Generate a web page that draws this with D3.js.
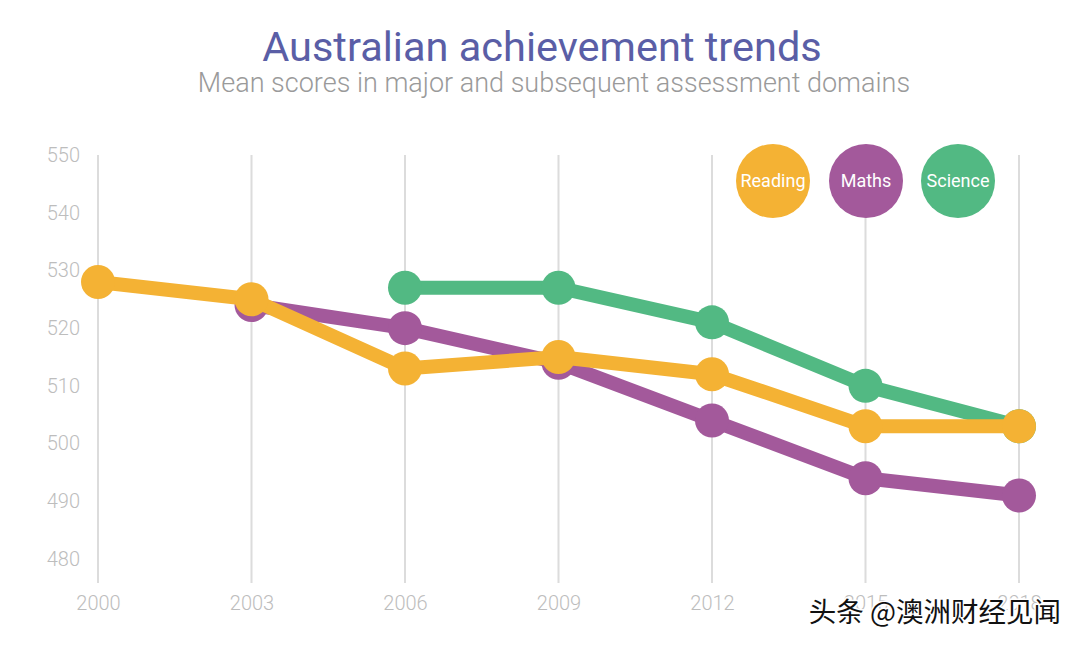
<!DOCTYPE html>
<html><head><meta charset="utf-8">
<script src="https://cdn.jsdelivr.net/npm/d3@7/dist/d3.min.js"></script>
<style>body{margin:0;background:#fff}svg{display:block}</style>
</head><body>
<script>
const years = [2000, 2003, 2006, 2009, 2012, 2015, 2018];
const yTicks = [480, 490, 500, 510, 520, 530, 540, 550];
const readingYears = [2000, 2003, 2006, 2009, 2012, 2015, 2018];
const readingScores = [528, 525, 513, 515, 512, 503, 503];
const mathsYears = [2003, 2006, 2009, 2012, 2015, 2018];
const mathsScores = [524, 520, 514, 504, 494, 491];
const scienceYears = [2006, 2009, 2012, 2015, 2018];
const scienceScores = [527, 527, 521, 510, 503];
const seriesNames = ["Reading", "Maths", "Science"];
const seriesColors = ["#F4B234", "#A3599B", "#52B983"];

const W = 1080, H = 647;
const svg = d3.select("body").append("svg").attr("width", W).attr("height", H);

const x = d3.scaleLinear().domain([2000, 2018]).range([98, 1019]);
const y = d3.scaleLinear().domain([480, 550]).range([559, 155]);

svg.append("text").attr("x", 542).attr("y", 61).attr("text-anchor", "middle")
  .attr("font-family", "Roboto").attr("font-size", 41.5).attr("fill", "#5A5EA6")
  .text("Australian achievement trends");
svg.append("text").attr("x", 554).attr("y", 92).attr("text-anchor", "middle")
  .attr("font-family", "Roboto").attr("font-weight", 300).attr("font-size", 27).attr("fill", "#9a9a9a")
  .text("Mean scores in major and subsequent assessment domains");

// vertical gridlines
svg.append("g").selectAll("line").data(years).join("line")
  .attr("x1", d => x(d)).attr("x2", d => x(d))
  .attr("y1", y(550)).attr("y2", 583)
  .attr("stroke", "#dcdcdc").attr("stroke-width", 2);

// y axis labels
const yAxis = d3.axisLeft(y).tickValues(yTicks).tickSize(0).tickPadding(0);
const gy = svg.append("g").attr("transform", "translate(80,0)").call(yAxis);
gy.select(".domain").remove();
gy.selectAll("text").attr("font-family", "Roboto").attr("font-weight", 300).attr("font-size", 20).attr("fill", "#bdbdbd");

// x axis labels
const xAxis = d3.axisBottom(x).tickValues(years).tickFormat(d3.format("d")).tickSize(0).tickPadding(0);
const gx = svg.append("g").attr("transform", "translate(0,596)").call(xAxis);
gx.select(".domain").remove();
gx.selectAll("text").attr("font-family", "Roboto").attr("font-weight", 300).attr("font-size", 20).attr("fill", "#bdbdbd");

const series = [
  {name: "Maths", yrs: mathsYears, vals: mathsScores, color: seriesColors[1]},
  {name: "Science", yrs: scienceYears, vals: scienceScores, color: seriesColors[2]},
  {name: "Reading", yrs: readingYears, vals: readingScores, color: seriesColors[0]}
];
const line = d3.line().x(d => x(d[0])).y(d => y(d[1]));
series.forEach(s => {
  const pts = s.yrs.map((yr, i) => [yr, s.vals[i]]);
  const g = svg.append("g");
  g.append("path").datum(pts).attr("d", line).attr("fill", "none")
    .attr("stroke", s.color).attr("stroke-width", 14).attr("stroke-linejoin", "round");
  g.selectAll("circle").data(pts).join("circle")
    .attr("cx", d => x(d[0])).attr("cy", d => y(d[1])).attr("r", 17).attr("fill", s.color);
});

// legend
const legendX = [773, 866, 958];
const lg = svg.append("g");
seriesNames.forEach((n, i) => {
  lg.append("circle").attr("cx", legendX[i]).attr("cy", 181).attr("r", 37).attr("fill", seriesColors[i]);
  lg.append("text").attr("x", legendX[i]).attr("y", 187).attr("text-anchor", "middle")
    .attr("font-family", "Roboto").attr("font-size", 18).attr("fill", "#fff").text(n);
});

// watermark
svg.append("text").attr("x", 1061).attr("y", 622).attr("text-anchor", "end")
  .attr("font-family", "Noto Sans CJK SC").attr("font-size", 27.5).attr("fill", "#111")
  .attr("stroke", "#fff").attr("stroke-width", 3).attr("paint-order", "stroke")
  .text("头条 @澳洲财经见闻");
</script>
</body></html>
